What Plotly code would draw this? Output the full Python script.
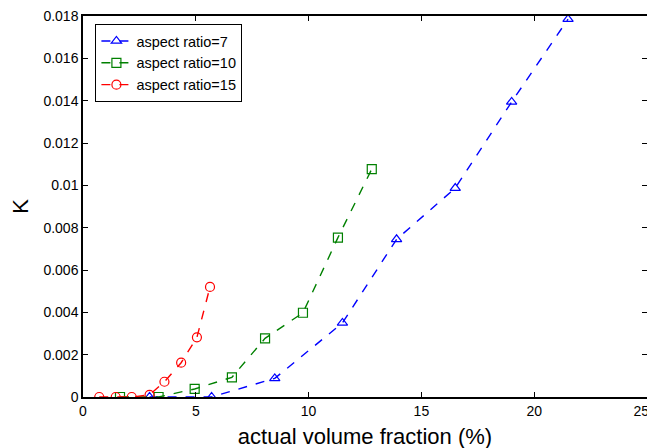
import plotly.graph_objects as go

# aspect ratio = 7
x_ar7 = [2.95, 5.7, 8.5, 11.5, 13.9, 16.5, 19.0, 21.5]
k_ar7 = [0.0, 0.0, 0.00088, 0.0035, 0.00745, 0.00987, 0.01394, 0.01785]

# aspect ratio = 10
x_ar10 = [1.64, 3.35, 4.95, 6.6, 8.07, 9.75, 11.3, 12.8]
k_ar10 = [0.0, 0.0, 0.00038, 0.00093, 0.00277, 0.00398, 0.00753, 0.01077]

# aspect ratio = 15
x_ar15 = [0.72, 1.45, 2.16, 2.95, 3.61, 4.35, 5.05, 5.63]
k_ar15 = [0.0, 0.0, 0.0, 0.0001, 0.00072, 0.00162, 0.00282, 0.0052]

x_ticks = [0, 5, 10, 15, 20, 25]
x_labels = ['0', '5', '10', '15', '20', '25\u00a0\u00a0\u00a0']  # padded so the last label stays inside the window
y_ticks = [0, 0.002, 0.004, 0.006, 0.008, 0.01, 0.012, 0.014, 0.016, 0.018]
y_labels = ['0', '0.002', '0.004', '0.006', '0.008', '0.01', '0.012', '0.014', '0.016', '0.018']

FONT = 'Liberation Sans, Arial, sans-serif'

fig = go.Figure()
series = [
    (x_ar7, k_ar7, 'aspect ratio=7', '#0000ff', 'triangle-up-open'),
    (x_ar10, k_ar10, 'aspect ratio=10', '#008000', 'square-open'),
    (x_ar15, k_ar15, 'aspect ratio=15', '#ff0000', 'circle-open'),
]
for xs, ys, name, color, symbol in series:
    fig.add_trace(go.Scatter(
        x=xs, y=ys, name=name, mode='lines+markers',
        line=dict(color=color, width=1.4, dash='dash'),
        marker=dict(symbol=symbol, size=9, color=color, line=dict(width=1.2, color=color)),
    ))

axis_style = dict(
    showline=True, linecolor='black', linewidth=1.5, mirror='ticks',
    ticks='inside', ticklen=5, tickcolor='black', tickwidth=1,
    showgrid=False, zeroline=False, automargin=False,
    ticklabeloverflow='allow',
    tickfont=dict(family=FONT, size=14, color='black'),
)

fig.update_xaxes(range=[0, 25], tickvals=x_ticks, ticktext=x_labels, ticklabelstandoff=0,
                 title=dict(text='actual volume fraction (%)', standoff=11,
                            font=dict(family=FONT, size=22, color='black')),
                 **axis_style)
fig.update_yaxes(range=[0, 0.018], tickvals=y_ticks, ticktext=y_labels,
                 title=dict(text='K', standoff=12,
                            font=dict(family=FONT, size=22, color='black')),
                 **axis_style)

# the page body adds an 8px offset, so margins are shifted to put the axes where the reference has them
fig.update_layout(
    width=655, height=448,
    margin=dict(l=75, r=16, t=8, b=59),
    paper_bgcolor='white', plot_bgcolor='white',
    showlegend=True,
    legend=dict(x=0.022, y=0.979, xanchor='left', yanchor='top',
                bgcolor='white', bordercolor='black', borderwidth=1,
                font=dict(family=FONT, size=14.5, color='black'),
                tracegroupgap=0, itemwidth=30),
)

fig.write_html('out.html')
